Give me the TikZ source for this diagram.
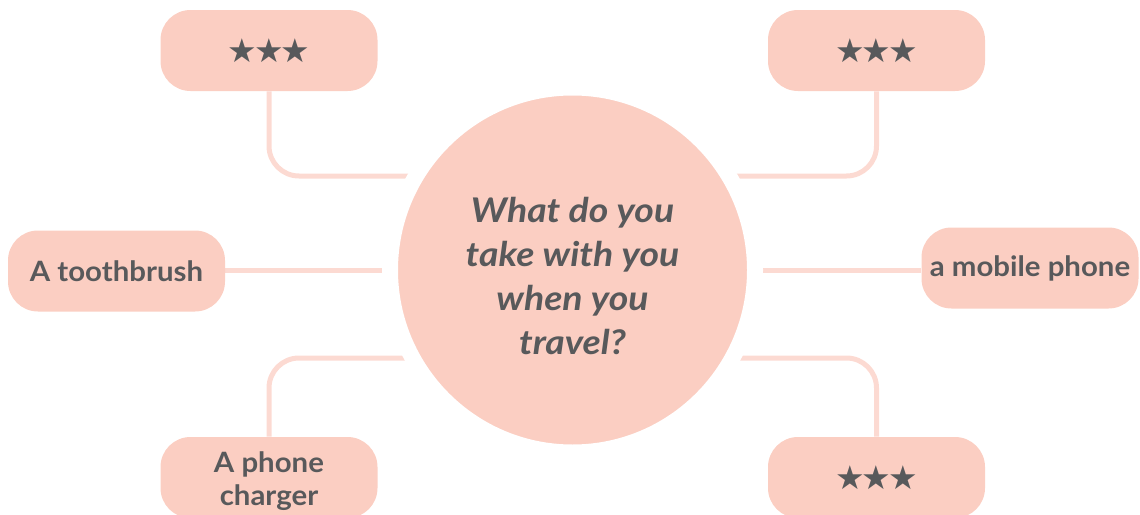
\documentclass[tikz,border=0pt]{standalone}
\usepackage{fontspec}
\setmainfont[FakeStretch=1.05]{Lato}
\newfontfamily\hubfont[FakeStretch=1.1]{Lato}
\newfontfamily\symfont{DejaVu Sans}
\usetikzlibrary{backgrounds}
\definecolor{peach}{HTML}{FBCEC2}
\definecolor{peachline}{HTML}{FCDAD2}
\definecolor{inkgray}{HTML}{58595B}
\tikzset{item/.style={fill=peach, rounded corners=15pt, minimum width=108.5pt, minimum height=40.5pt, inner sep=0pt, text=inkgray, font=\fontsize{14}{16.5}\selectfont\bfseries, align=center}}
\tikzset{link/.style={peachline, line width=2.5pt, rounded corners=15pt}}
\newcommand{\threestars}{{\symfont\fontsize{16.5}{16}\selectfont ★\kern-1.5pt★\kern-1.5pt★}}

\begin{document}
\begin{tikzpicture}[x=0.5pt, y=-0.5pt]
            \useasboundingbox (0,0) rectangle (1140,514);
            \node[item] (tl) at (269,50.5) {\threestars};
            \node[item] (tr) at (876.5,50.5) {\threestars};
            \node[item] (ml) at (116.5,271) {A toothbrush};
            \node[item] (mr) at (1030,268) {a mobile phone};
            \node[item] (bl) at (269,477.5) {\rule{0pt}{14pt}A phone\\ charger};
            \node[item] (br) at (876.5,477.5) {\threestars};
            \coordinate (tl-in) at (500,176); \coordinate (tr-in) at (650,176);
            \coordinate (ml-in) at (500,270); \coordinate (mr-in) at (650,270);
            \coordinate (bl-in) at (500,358); \coordinate (br-in) at (650,358);
            % connectors under the hub
            \begin{scope}[on background layer]
                \draw[link] (tl.south) |- (tl-in);
                \draw[link] (tr.south) |- (tr-in);
                \draw[link] (ml.east |- ml-in) -- (ml-in);
                \draw[link] (mr.west |- mr-in) -- (mr-in);
                \draw[link] (bl.north) |- (bl-in);
                \draw[link] (br.north) |- (br-in);
            \end{scope}
            % hub with white halo
            \node[circle, fill=peach, draw=white, line width=8pt, minimum size=182.5pt, inner sep=0pt,
                  text=inkgray, align=center, font=\hubfont\fontsize{17}{22}\selectfont\bfseries\itshape] (hub) at (572.5,270)
                  {\rule{0pt}{18.5pt}What do you\\ take with you\\ when you\\ travel?};
        \end{tikzpicture}
\end{document}
